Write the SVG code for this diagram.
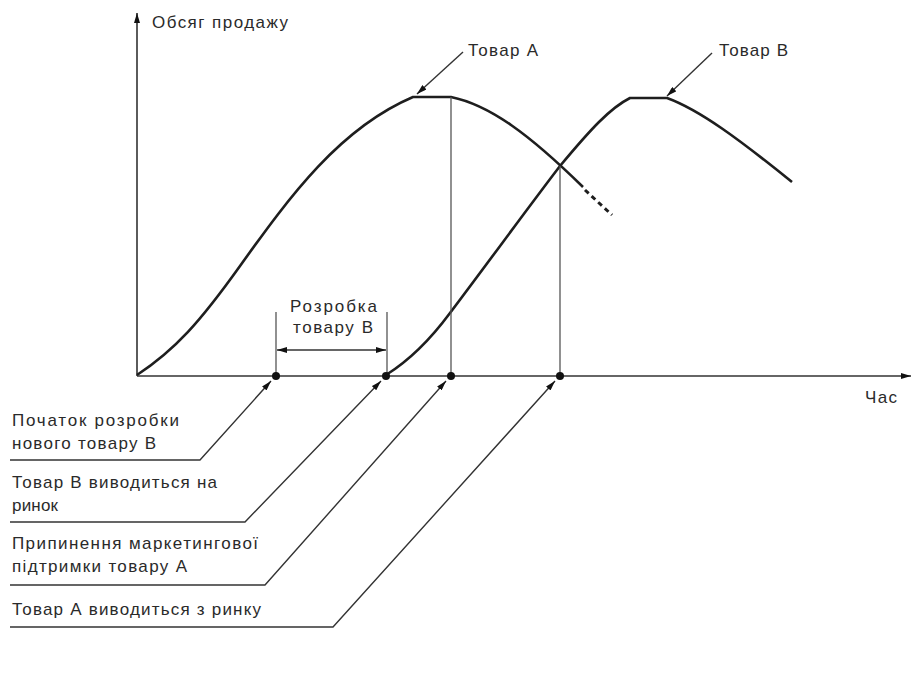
<svg xmlns="http://www.w3.org/2000/svg" width="912" height="678" viewBox="0 0 912 678">
<defs>
<style>
text{font-family:"Liberation Sans",Arial,sans-serif;font-size:17px;fill:#2a2a2a}
.axis{stroke:#333;stroke-width:1.6;fill:none}
.curve{stroke:#1e1e1e;stroke-width:2.6;fill:none;stroke-linejoin:round}
.thin{stroke:#555;stroke-width:1.3;fill:none}
.lead{stroke:#333;stroke-width:1.4;fill:none}
.dot{fill:#111}
</style>
<marker id="ah" viewBox="0 0 10 6" refX="10" refY="3" markerWidth="10" markerHeight="6" markerUnits="userSpaceOnUse" orient="auto">
<path d="M0,0 L10,3 L0,6 z" fill="#111"/>
</marker>
<marker id="ahs" viewBox="0 0 10 6" refX="10" refY="3" markerWidth="10" markerHeight="6" markerUnits="userSpaceOnUse" orient="auto-start-reverse">
<path d="M0,0 L10,3 L0,6 z" fill="#111"/>
</marker>
</defs>
<rect width="912" height="678" fill="#fff"/>

<g id="axes">
<line class="axis" x1="137" y1="376" x2="137" y2="13" marker-end="url(#ah)"/>
<line class="axis" x1="137" y1="376" x2="911" y2="376" marker-end="url(#ah)"/>
<text x="152" y="28" textLength="136" lengthAdjust="spacing">Обсяг продажу</text>
<text x="865" y="403" textLength="32" lengthAdjust="spacing">Час</text>
</g>

<g id="curveA">
<path class="curve" d="M137,375 C175,350 200,322 240,266 C290,196 340,128 413,97 L451,97 C490,105 530,135 583,187"/>
<path d="M585,190 L612,215" stroke="#1e1e1e" stroke-width="3" stroke-dasharray="5 4" fill="none"/>
<line class="lead" x1="463" y1="52" x2="417" y2="94" marker-end="url(#ah)"/>
<text x="468" y="56" textLength="70" lengthAdjust="spacing">Товар А</text>
</g>

<g id="curveB">
<path class="curve" d="M386,375 C410,360 430,340 450,313 C490,260 530,205 560,166 C590,130 610,108 630,98 L667,98 C700,110 740,140 792,182"/>
<line class="lead" x1="712" y1="53" x2="667" y2="96" marker-end="url(#ah)"/>
<text x="719" y="56" textLength="69" lengthAdjust="spacing">Товар В</text>
</g>

<g id="drops">
<line class="thin" x1="451" y1="97" x2="451" y2="376"/>
<line class="thin" x1="560" y1="166" x2="560" y2="376"/>
</g>

<g id="development">
<line class="thin" x1="276" y1="312" x2="276" y2="376"/>
<line class="thin" x1="387" y1="312" x2="387" y2="376"/>
<line class="lead" x1="277" y1="350" x2="386" y2="350" marker-start="url(#ahs)" marker-end="url(#ah)"/>
<text x="290" y="312" textLength="87" lengthAdjust="spacing">Розробка</text>
<text x="293" y="333" textLength="80" lengthAdjust="spacing">товару В</text>
</g>

<g id="dots">
<circle class="dot" cx="276" cy="376" r="4"/>
<circle class="dot" cx="386" cy="376" r="4"/>
<circle class="dot" cx="451" cy="376" r="4"/>
<circle class="dot" cx="560" cy="376" r="4"/>
</g>

<g id="connectors">
<polyline class="lead" points="10,460 200,460 271,381" marker-end="url(#ah)"/>
<polyline class="lead" points="10,522 245,522 381,381" marker-end="url(#ah)"/>
<polyline class="lead" points="10,585 265,585 446,381" marker-end="url(#ah)"/>
<polyline class="lead" points="10,627 333,627 555,381" marker-end="url(#ah)"/>
</g>

<g id="label1">
<text x="12" y="426" textLength="167" lengthAdjust="spacing">Початок розробки</text>
<text x="12" y="449" textLength="144" lengthAdjust="spacing">нового товару В</text>
</g>
<g id="label2">
<text x="12" y="488" textLength="205" lengthAdjust="spacing">Товар В виводиться на</text>
<text x="12" y="511" textLength="46" lengthAdjust="spacing">ринок</text>
</g>
<g id="label3">
<text x="12" y="549" textLength="246" lengthAdjust="spacing">Припинення маркетингової</text>
<text x="12" y="572" textLength="175" lengthAdjust="spacing">підтримки товару А</text>
</g>
<g id="label4">
<text x="12" y="615" textLength="249" lengthAdjust="spacing">Товар А виводиться з ринку</text>
</g>
</svg>
